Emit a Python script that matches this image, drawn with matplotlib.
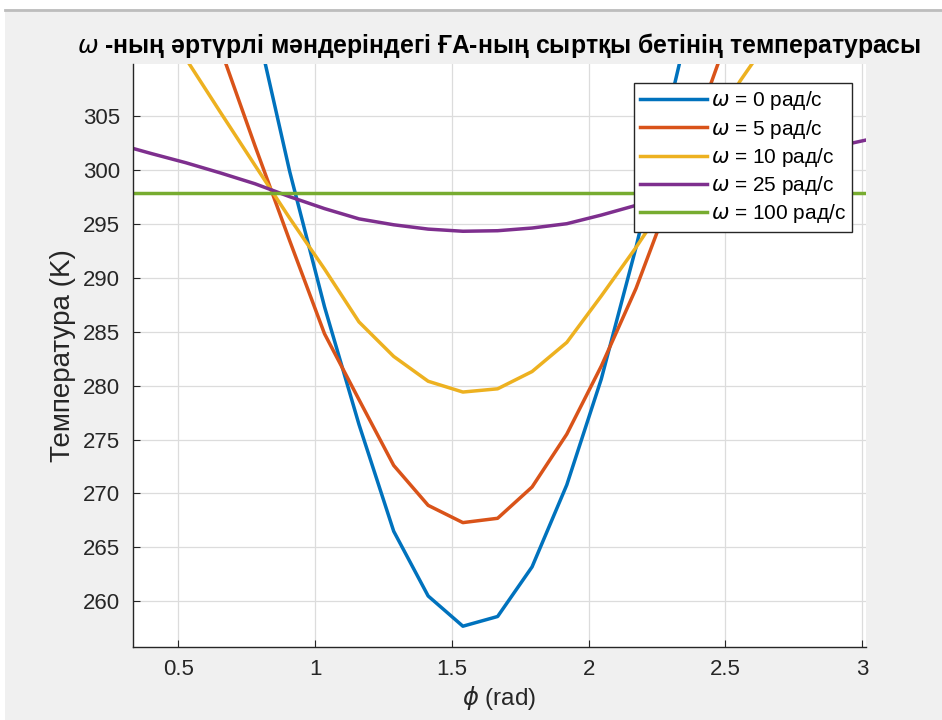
import matplotlib.pyplot as plt
from matplotlib.patches import Rectangle
from matplotlib.lines import Line2D

# ---- data ----
phi = [0.274, 0.401, 0.527, 0.654, 0.780, 0.907, 1.034, 1.160, 1.287, 1.413,
       1.540, 1.667, 1.793, 1.920, 2.046, 2.173, 2.299, 2.426, 2.553, 2.679,
       2.806, 2.932, 3.059]

T_w0 = [380, 365, 348, 330, 314.0, 299.8, 287.3, 276.4, 266.5, 260.5,
        257.7, 258.6, 263.2, 270.8, 280.6, 292.8, 306.3, 320, 335, 350,
        363, 375, 385]
T_w5 = [335, 328, 320, 311.2, 302.2, 293.4, 284.8, 278.7, 272.6, 268.9,
        267.3, 267.7, 270.6, 275.5, 281.8, 289.0, 297.5, 306.5, 315.5, 324,
        332, 339, 345]
T_w10 = [319.5, 315.0, 310.3, 305.3, 300.4, 295.5, 290.8, 285.9, 282.7, 280.4,
         279.4, 279.7, 281.3, 284.0, 288.3, 292.8, 297.6, 302.6, 308.2, 312.8,
         317, 321, 325]
T_w25 = [302.4, 301.5, 300.65, 299.7, 298.7, 297.5, 296.4, 295.45, 294.9, 294.5,
         294.3, 294.35, 294.6, 295.0, 295.8, 296.7, 297.7, 298.7, 299.7, 300.6,
         301.5, 302.3, 303.0]
T_w100 = [297.85] * len(phi)

series = [T_w0, T_w5, T_w10, T_w25, T_w100]
labels = [r"$\omega$ = 0 рад/с", r"$\omega$ = 5 рад/с", r"$\omega$ = 10 рад/с",
          r"$\omega$ = 25 рад/с", r"$\omega$ = 100 рад/с"]
colors = ["#0072BD", "#D95319", "#EDB120", "#7E2F8E", "#77AC30"]

xticks = [0.5, 1, 1.5, 2, 2.5, 3]
xticklabels = ["0.5", "1", "1.5", "2", "2.5", "3"]
yticks = [260, 265, 270, 275, 280, 285, 290, 295, 300, 305]

# ---- style ----
plt.rcParams['font.family'] = ['Liberation Sans', 'DejaVu Sans']
plt.rcParams['mathtext.fontset'] = 'dejavusans'

fig = plt.figure(figsize=(9.42, 7.2), dpi=100, facecolor="#f0f0f0")
# screenshot frame: white strip on top + thin grey line
fig.patches.append(Rectangle((0, 1 - 9 / 720), 1, 9 / 720, transform=fig.transFigure,
                             facecolor="white", edgecolor="none", zorder=0))
fig.lines.append(Line2D([0.005, 1], [1 - 10 / 720, 1 - 10 / 720], transform=fig.transFigure,
                        color="#bdbdbd", linewidth=2))
fig.patches.append(Rectangle((0, 0), 5 / 942, 1, transform=fig.transFigure,
                             facecolor="white", edgecolor="none", zorder=0))

ax = fig.add_axes([0.1407, 0.1018, 0.7786, 0.8093])
ax.set_facecolor("white")

for y, lab, c in zip(series, labels, colors):
    ax.plot(phi, y, color=c, linewidth=2.5, label=lab)

ax.set_xlim(0.332, 3.014)
ax.set_ylim(255.8, 309.8)
ax.set_xticks(xticks)
ax.set_xticklabels(xticklabels)
ax.set_yticks(yticks)

ax.grid(True, color="#dcdcdc", linewidth=0.9)
ax.set_axisbelow(True)
for s in ["top", "right"]:
    ax.spines[s].set_visible(False)
for s in ["left", "bottom"]:
    ax.spines[s].set_color("#262626")
    ax.spines[s].set_linewidth(1.0)
ax.tick_params(axis="both", direction="in", length=5, colors="#262626",
               labelsize=16, labelcolor="#262626")
ax.tick_params(axis="x", pad=9)
ax.tick_params(axis="y", pad=9)

ax.set_title(r"$\omega$ -ның әртүрлі мәндеріндегі ҒА-ның сыртқы бетінің температурасы",
             fontsize=17.8, fontweight="bold", color="black", pad=8)
ax.set_xlabel(r"$\phi$ (rad)", fontsize=17.5, color="#262626", labelpad=3)
ax.set_ylabel("Температура (K)", fontsize=20, color="#262626", labelpad=5)

leg = ax.legend(loc="upper right", bbox_to_anchor=(0.981, 0.967), borderaxespad=0,
                fontsize=15, handlelength=3.2, handletextpad=0.2, labelspacing=0.25,
                borderpad=0.3, fancybox=False, framealpha=1, edgecolor="#262626")
leg.get_frame().set_linewidth(1.0)

plt.savefig("out.png", dpi=100, facecolor=fig.get_facecolor())
